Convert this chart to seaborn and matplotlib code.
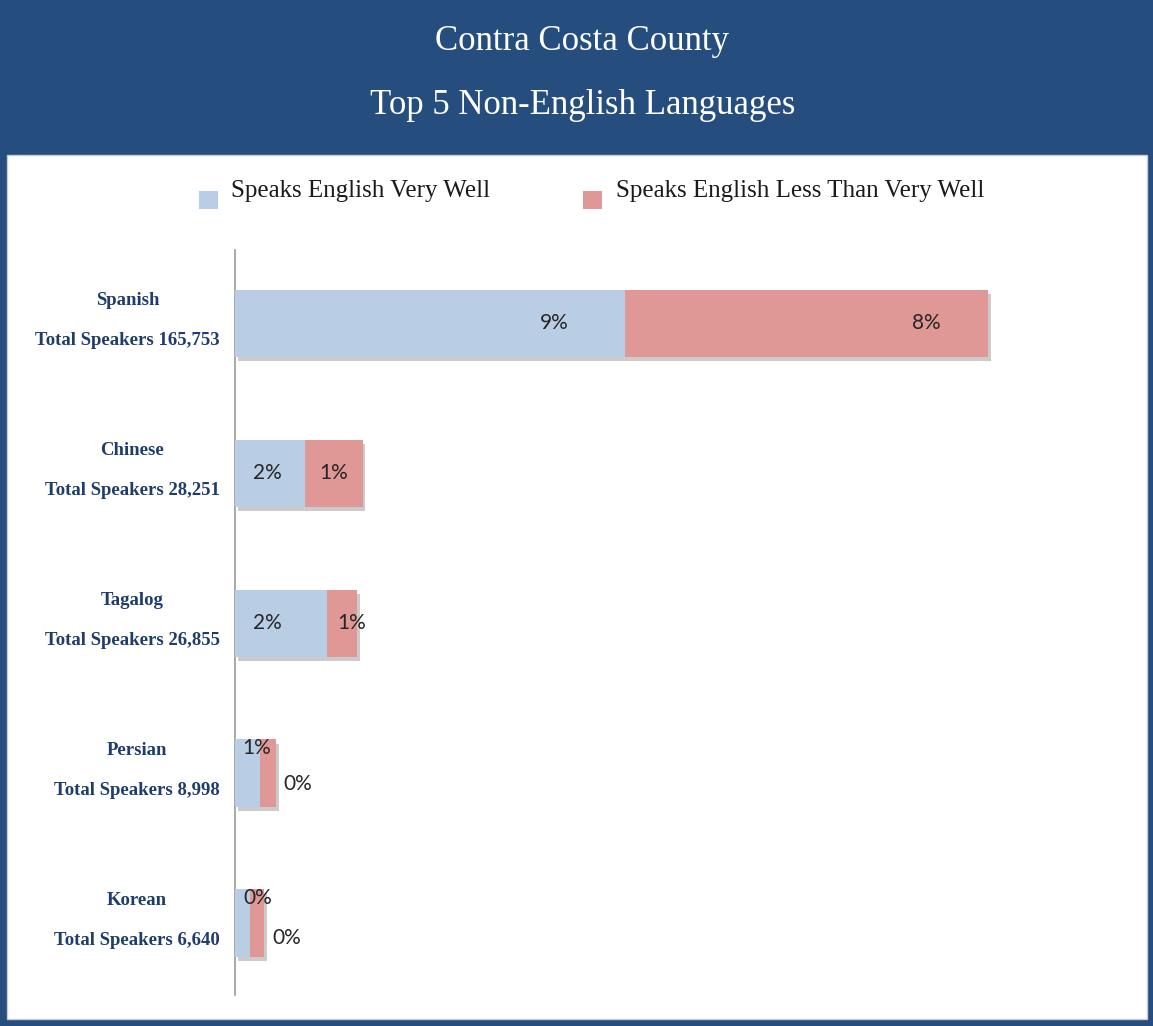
import matplotlib
matplotlib.use("Agg")
import matplotlib.pyplot as plt
import matplotlib.patheffects as pe
import matplotlib.transforms as mtransforms
from matplotlib.patches import Rectangle, Patch
from matplotlib.legend_handler import HandlerPatch
import seaborn as sns
import pandas as pd

# ---- data ----
languages = ["Spanish", "Chinese", "Tagalog", "Persian", "Korean"]
total_speakers = [165753, 28251, 26855, 8998, 6640]
very_well = [8.76, 1.57, 2.07, 0.56, 0.34]       # % of population
less_than = [8.16, 1.30, 0.67, 0.36, 0.31]       # % of population
series_names = ["Speaks English Very Well", "Speaks English Less Than Very Well"]
title_lines = ["Contra Costa County", "Top 5 Non-English Languages"]

# ---- styles ----
BLUE = "#B9CDE5"
RED = "#E09896"
NAVY = "#254D7E"
LABEL_NAVY = "#1F3D6B"
SERIF = ["Liberation Serif", "DejaVu Serif"]
SANS = ["Lato", "DejaVu Sans"]
# label placement: (fraction along segment, vertical offset in category units)
blue_lab = [(0.82, 0.0), (0.46, 0.0), (0.35, 0.0), (0.88, -0.17), (1.5, -0.17)]
red_lab = [(0.83, 0.0), (0.50, 0.0), (0.83, 0.0), None, None]
red_out = [None, None, None, (0.16, 0.07), (0.18, 0.1)]  # (x offset in %, y offset)

sns.set_theme(style="white")
plt.rcParams["font.family"] = SERIF

df = pd.DataFrame({
    "lang": languages,
    "very": very_well,
    "total": [a + b for a, b in zip(very_well, less_than)],
})

fig = plt.figure(figsize=(11.53, 10.26), dpi=100)
fig.patch.set_facecolor(NAVY)
# white content area
fig.patches.append(Rectangle((7 / 1153, 7 / 1026), 1140 / 1153, (1019 - 155) / 1026,
                             transform=fig.transFigure, facecolor="white",
                             edgecolor="#C8CCD4", linewidth=1.0, zorder=-5))

fig.text(0.505, 1 - 42 / 1026, title_lines[0], ha="center", va="center",
         color="white", fontsize=25, family=SERIF)
fig.text(0.505, 1 - 105 / 1026, title_lines[1], ha="center", va="center",
         color="white", fontsize=25, family=SERIF)

ax = fig.add_axes([235 / 1153, 1 - 995 / 1026, 890 / 1153, (995 - 250) / 1026])
ax.set_facecolor("none")
ax.set_zorder(2)

bar_h = 0.45
sns.barplot(data=df, y="lang", x="total", color=RED, orient="h", width=bar_h,
            saturation=1, ax=ax, zorder=2)
sns.barplot(data=df, y="lang", x="very", color=BLUE, orient="h", width=bar_h,
            saturation=1, ax=ax, zorder=3)
n = len(languages)
for i, p in enumerate(ax.patches):
    p.set_linewidth(0)
    if i < n:
        p.set_path_effects([pe.SimplePatchShadow(offset=(2, -3), alpha=0.3,
                                                 shadow_rgbFace="#555555"), pe.Normal()])

ax.set_xlim(0, 20)
ax.set_ylim(4.48, -0.49)
ax.set_xlabel("")
ax.set_ylabel("")
ax.set_xticks([])
for s in ["top", "right", "bottom"]:
    ax.spines[s].set_visible(False)
ax.spines["left"].set_color("#9A9A9A")
ax.spines["left"].set_linewidth(1.2)

ax.set_yticks(range(n))
ax.set_yticklabels([f"{l}\nTotal Speakers {t:,}" for l, t in zip(languages, total_speakers)],
                   fontsize=13.5, fontweight="bold", color=LABEL_NAVY, family=SERIF,
                   linespacing=2.75, multialignment="center")
ax.tick_params(axis="y", length=0, pad=11)
shift = mtransforms.ScaledTranslation(0, 16 / 100, fig.dpi_scale_trans)
for lab in ax.get_yticklabels():
    lab.set_transform(lab.get_transform() + shift)

# value labels
for i in range(n):
    v, r = very_well[i], less_than[i]
    fx, dy = blue_lab[i]
    ax.text(v * fx, i + dy, f"{round(v):d}%", ha="center", va="center",
            fontsize=15, family=SANS, color="#262626", zorder=5)
    if red_lab[i] is not None:
        fx, dy = red_lab[i]
        ax.text(v + r * fx, i + dy, f"{round(r):d}%", ha="center", va="center",
                fontsize=15, family=SANS, color="#262626", zorder=5)
    else:
        ox, dy = red_out[i]
        ax.text(v + r + ox, i + dy, f"{round(r):d}%", ha="left", va="center",
                fontsize=15, family=SANS, color="#262626", zorder=5)


def low_square(legend, orig_handle, xdescent, ydescent, width, height, fontsize):
    # square sits a little below the text line, as in the reference
    return Rectangle((-xdescent, -ydescent - 8), width, height)


handles = [Patch(facecolor=BLUE, edgecolor="none"), Patch(facecolor=RED, edgecolor="none")]
leg = fig.legend(handles, series_names, loc="center", bbox_to_anchor=(0.513, 1 - 191 / 1026),
                 ncol=2, frameon=False, columnspacing=3.7, handlelength=0.75,
                 handleheight=0.75, handletextpad=0.55, prop={"family": SERIF, "size": 18},
                 handler_map={Patch: HandlerPatch(patch_func=low_square)})
for t in leg.get_texts():
    t.set_color("#1A1A1A")

fig.savefig("out.png", dpi=100, facecolor=fig.get_facecolor())
